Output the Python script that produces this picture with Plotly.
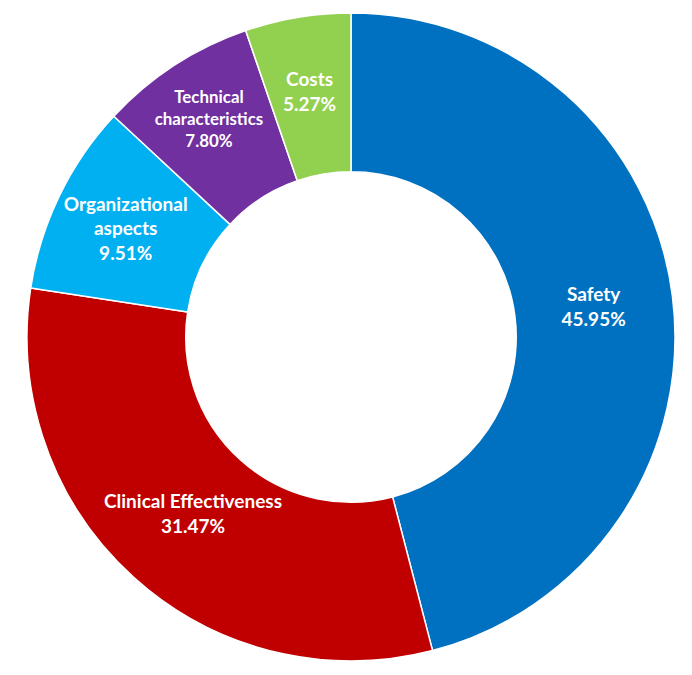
import math
import plotly.graph_objects as go

labels = ["Safety", "Clinical Effectiveness", "Organizational<br>aspects", "Technical<br>characteristics", "Costs"]
values = [45.95, 31.47, 9.51, 7.80, 5.27]
colors = ["#0070C0", "#C00000", "#00B0F0", "#7030A0", "#92D050"]

W, H = 692, 675
# pie centre / radius in figure pixels (page has 8px body margin)
cx, cy, R = 343, 329, 324
HOLE = 0.51
FONT = dict(family="Lato", size=19, color="white", weight="bold")

# Labels placed by annotation at the slice mid-angle (radius as fraction of R)
manual = {"Clinical Effectiveness": 0.73, "Costs": 0.77}

templates = ["" if lab in manual else "%{label}<br>%{value:.2f}%" for lab in labels]
sizes = [17 if lab.startswith("Technical") else 19 for lab in labels]

fig = go.Figure(go.Pie(
    labels=labels,
    values=values,
    sort=False,
    direction="clockwise",
    rotation=0,
    hole=HOLE,
    marker=dict(colors=colors, line=dict(color="white", width=1.5)),
    texttemplate=templates,
    textposition="inside",
    insidetextorientation="horizontal",
    textfont=dict(family="Lato", size=sizes, color="white", weight="bold"),
    domain=dict(x=[(cx - R) / W, (cx + R) / W], y=[1 - (cy + R) / H, 1 - (cy - R) / H]),
    showlegend=False,
))

total = sum(values)
cum = 0.0
for lab, v in zip(labels, values):
    mid = (cum + v / 2) / total
    cum += v
    if lab not in manual:
        continue
    th = 2 * math.pi * mid
    r = manual[lab] * R
    px = cx + r * math.sin(th)
    py = cy - r * math.cos(th)
    fig.add_annotation(
        x=px / W, y=1 - py / H, xref="paper", yref="paper",
        text=f"{lab}<br>{v:.2f}%", showarrow=False,
        font=FONT,
        xanchor="center", yanchor="middle",
    )

fig.update_layout(
    width=W, height=H,
    margin=dict(l=0, r=0, t=0, b=0),
    paper_bgcolor="white",
    plot_bgcolor="white",
)
fig.write_html("out.html")
